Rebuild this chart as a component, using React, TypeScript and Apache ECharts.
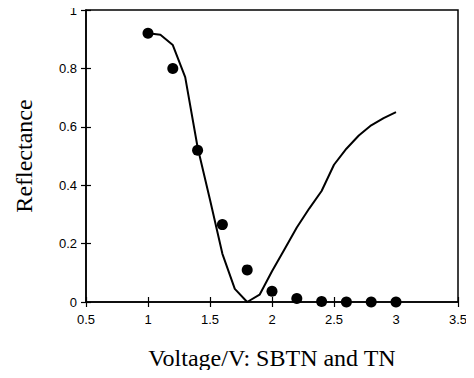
import React, { useEffect, useRef } from "react";
import * as echarts from "echarts";

const lineX = [1.0, 1.1, 1.2, 1.3, 1.4, 1.5, 1.6, 1.7, 1.8, 1.9, 2.0, 2.1, 2.2, 2.3, 2.4, 2.5, 2.6, 2.7, 2.8, 2.9, 3.0];
const lineY = [0.92, 0.915, 0.88, 0.77, 0.53, 0.35, 0.165, 0.045, 0.0, 0.025, 0.105, 0.18, 0.255, 0.32, 0.38, 0.47, 0.525, 0.57, 0.605, 0.63, 0.65];
const dotX = [1.0, 1.2, 1.4, 1.6, 1.8, 2.0, 2.2, 2.4, 2.6, 2.8, 3.0];
const dotY = [0.92, 0.8, 0.52, 0.265, 0.11, 0.037, 0.012, 0.002, 0.0, 0.0, 0.0];
const xTitle = "Voltage/V: SBTN and TN";
const yTitle = "Reflectance";

export default function App() {
  const ref = useRef<HTMLDivElement>(null);
  useEffect(() => {
    if (!ref.current) return;
    const chart = echarts.init(ref.current, null, { renderer: "svg" });
    const tickFont = "'Liberation Sans', Arial, sans-serif";
    const titleFont = "'Liberation Serif', 'Times New Roman', serif";
    const baseX = {
      type: "value" as const,
      min: 0.5,
      max: 3.5,
      interval: 0.5,
      splitLine: { show: false },
    };
    const baseY = {
      type: "value" as const,
      min: 0,
      max: 1,
      interval: 0.2,
      splitLine: { show: false },
    };
    chart.setOption({
      animation: false,
      backgroundColor: "#fff",
      grid: {
        left: 86,
        right: 16,
        top: 10,
        bottom: 76,
        show: true,
        borderColor: "#000",
        borderWidth: 1.5,
        backgroundColor: "transparent",
      },
      xAxis: [
        {
          ...baseX,
          position: "bottom",
          axisLine: { show: true, onZero: false, lineStyle: { color: "#000", width: 1.5 } },
          axisTick: { show: true, length: 5, lineStyle: { color: "#000", width: 1.2 } },
          axisLabel: {
            color: "#000",
            fontFamily: tickFont,
            fontSize: 13,
            margin: 11,
            formatter: (v: number) => String(v),
          },
          name: xTitle,
          nameLocation: "middle",
          nameGap: 44,
          nameTextStyle: { color: "#000", fontFamily: titleFont, fontSize: 24 },
        },
        {
          ...baseX,
          position: "bottom",
          axisLine: { show: false },
          axisTick: { show: true, inside: true, length: 5, lineStyle: { color: "#000", width: 1.2 } },
          axisLabel: { show: false },
        },
      ],
      yAxis: [
        {
          ...baseY,
          position: "left",
          axisLine: { show: true, onZero: false, lineStyle: { color: "#000", width: 1.5 } },
          axisTick: { show: true, length: 5, lineStyle: { color: "#000", width: 1.2 } },
          axisLabel: {
            color: "#000",
            fontFamily: tickFont,
            fontSize: 13,
            margin: 9,
            formatter: (v: number) => String(v),
          },
          name: yTitle,
          nameLocation: "middle",
          nameGap: 50,
          nameRotate: 90,
          nameTextStyle: { color: "#000", fontFamily: titleFont, fontSize: 24 },
        },
        {
          ...baseY,
          position: "left",
          axisLine: { show: false },
          axisTick: { show: true, inside: true, length: 5, lineStyle: { color: "#000", width: 1.2 } },
          axisLabel: { show: false },
        },
      ],
      series: [
        {
          type: "line",
          data: lineX.map((x, i) => [x, lineY[i]]),
          showSymbol: false,
          symbol: "none",
          lineStyle: { color: "#000", width: 2 },
          z: 2,
        },
        {
          type: "scatter",
          data: dotX.map((x, i) => [x, dotY[i]]),
          symbol: "circle",
          symbolSize: 11,
          itemStyle: { color: "#000", opacity: 1 },
          z: 3,
        },
      ],
    });
    return () => chart.dispose();
  }, []);
  return <div ref={ref} style={{ width: 474, height: 378, margin: -8 }} />;
}
